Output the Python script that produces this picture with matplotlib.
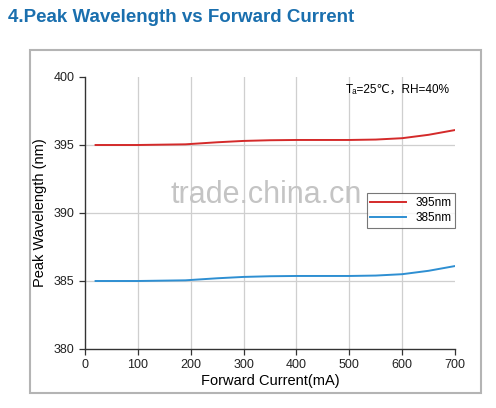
import matplotlib.pyplot as plt
from matplotlib.patches import Rectangle

# data
current = [20, 100, 190, 250, 300, 350, 400, 450, 500, 550, 600, 650, 700]
wl_395 = [395.0, 395.0, 395.05, 395.2, 395.3, 395.35, 395.37, 395.37, 395.37, 395.4, 395.5, 395.75, 396.1]
wl_385 = [385.0, 385.0, 385.05, 385.2, 385.3, 385.35, 385.37, 385.37, 385.37, 385.4, 385.5, 385.75, 386.1]
xticks = [0, 100, 200, 300, 400, 500, 600, 700]
yticks = [380, 385, 390, 395, 400]

plt.rcParams['font.family'] = ['Liberation Sans', 'DejaVu Sans', 'Noto Sans CJK SC']

fig = plt.figure(figsize=(4.96, 4.08), dpi=100, facecolor='white')
ax = fig.add_axes([85/496, 1 - 349/408, 370/496, 272/408])

# outer gray frame around the plot
fig.patches.append(Rectangle((30/496, 1 - 393/408), 451/496, 343/408, transform=fig.transFigure,
                             fill=False, edgecolor='#b4b4b4', lw=1.5))

fig.text(8/496, 1 - 17/408, '4.Peak Wavelength vs Forward Current', fontsize=13.5,
         fontweight='bold', color='#1a6fae', va='center', ha='left')

# gridlines (inner ones only)
for v in xticks[1:-1]:
    ax.axvline(v, color='#cfcfcf', lw=0.9, zorder=0)
for v in yticks[1:-1]:
    ax.axhline(v, color='#cfcfcf', lw=0.9, zorder=0)

ax.plot(current, wl_395, color='#d42a2a', lw=1.4, label='395nm')
ax.plot(current, wl_385, color='#2e8fd2', lw=1.4, label='385nm')

ax.set_xlim(0, 700)
ax.set_ylim(380, 400)
ax.set_xticks(xticks)
ax.set_yticks(yticks)
ax.tick_params(labelsize=9, length=4, width=0.9, color='#333333', labelcolor='#222222')
for s in ('top', 'right'):
    ax.spines[s].set_visible(False)
for s in ('left', 'bottom'):
    ax.spines[s].set_color('#333333')
    ax.spines[s].set_linewidth(1.0)

ax.set_xlabel('Forward Current(mA)', fontsize=10.5, labelpad=2)
ax.set_ylabel('Peak Wavelength (nm)', fontsize=10.5, labelpad=5)

ax.text(0.985, 0.955, 'Tₐ=25℃，RH=40%', transform=ax.transAxes, ha='right', va='center',
        fontsize=8.5)

leg = ax.legend(loc='lower right', bbox_to_anchor=(1.0, 0.445), fontsize=8.5, fancybox=False,
                handlelength=3.0, borderpad=0.3, labelspacing=0.3, borderaxespad=0)
leg.get_frame().set_edgecolor('#555555')
leg.get_frame().set_linewidth(0.8)

# watermark
fig.text(266/496, 1 - 195/408, 'trade.china.cn', fontsize=22, color='#c4c4c4',
         ha='center', va='center', zorder=10)

fig.savefig('out.png', dpi=100)
